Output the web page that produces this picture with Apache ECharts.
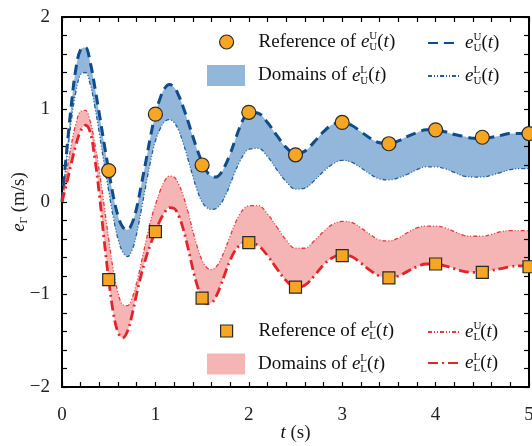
<!DOCTYPE html>
<html><head><meta charset="utf-8">
<script src="https://cdn.jsdelivr.net/npm/echarts@6/dist/echarts.min.js"></script>
<style>html,body{margin:0;padding:0;background:#fff}#c{width:532px;height:446px}</style>
</head><body><div id="c"></div>
<script>
// time samples of the curves (s)
const T = [0,0.05,0.1,0.15,0.2,0.25,0.3,0.35,0.4,0.45,0.5,0.55,0.6,0.65,0.7,0.75,0.8,0.85,0.9,0.95,1.0,
  1.05,1.1,1.15,1.2,1.25,1.3,1.35,1.4,1.45,1.5,1.55,1.6,1.65,1.7,1.75,1.8,1.85,1.9,1.95,2.0,
  2.1,2.2,2.3,2.4,2.5,2.6,2.7,2.8,2.9,3.0,3.1,3.2,3.3,3.4,3.5,3.6,3.7,3.8,3.9,4.0,
  4.1,4.2,4.3,4.4,4.5,4.6,4.7,4.8,4.9,5.0];
// e_U^U(t)
const UU = [0,0.55,1.05,1.45,1.65,1.67,1.52,1.25,0.95,0.64,0.34,0.06,-0.15,-0.27,-0.30,-0.23,-0.06,0.19,0.45,0.72,0.95,
  1.12,1.23,1.27,1.24,1.15,1.02,0.87,0.71,0.56,0.43,0.33,0.28,0.27,0.31,0.40,0.52,0.66,0.80,0.91,0.97,
  0.96,0.86,0.72,0.59,0.52,0.55,0.65,0.76,0.84,0.86,0.83,0.76,0.69,0.64,0.63,0.66,0.71,0.75,0.78,0.78,
  0.76,0.73,0.71,0.69,0.69,0.70,0.72,0.74,0.74,0.74];
// e_U^L(t)
const UL = [0,0.45,0.88,1.20,1.38,1.40,1.28,1.04,0.74,0.42,0.12,-0.17,-0.40,-0.54,-0.59,-0.52,-0.34,-0.08,0.19,0.45,0.66,
  0.79,0.87,0.89,0.86,0.77,0.63,0.46,0.28,0.12,0.00,-0.06,-0.08,-0.07,-0.02,0.07,0.19,0.32,0.43,0.52,0.57,
  0.58,0.49,0.35,0.22,0.14,0.15,0.23,0.33,0.41,0.45,0.43,0.37,0.30,0.25,0.24,0.26,0.30,0.35,0.38,0.38,
  0.36,0.32,0.28,0.27,0.27,0.29,0.32,0.35,0.36,0.36];
// e_L^U(t)
const LU = [0,0.33,0.62,0.85,0.98,0.99,0.88,0.64,0.33,-0.03,-0.40,-0.74,-0.98,-1.11,-1.12,-1.04,-0.87,-0.65,-0.42,-0.20,-0.03,
  0.12,0.23,0.28,0.27,0.19,0.06,-0.11,-0.31,-0.49,-0.63,-0.71,-0.73,-0.70,-0.62,-0.50,-0.37,-0.24,-0.14,-0.07,-0.04,
  -0.04,-0.13,-0.27,-0.41,-0.50,-0.50,-0.42,-0.32,-0.24,-0.21,-0.22,-0.28,-0.35,-0.41,-0.42,-0.39,-0.33,-0.28,-0.26,-0.26,
  -0.28,-0.32,-0.36,-0.37,-0.37,-0.35,-0.32,-0.31,-0.31,-0.31];
// e_L^L(t)
const LL = [0,0.20,0.42,0.62,0.77,0.83,0.76,0.48,0.08,-0.40,-0.84,-1.20,-1.41,-1.47,-1.40,-1.22,-0.99,-0.78,-0.60,-0.45,-0.32,
  -0.20,-0.11,-0.06,-0.07,-0.15,-0.30,-0.50,-0.72,-0.91,-1.04,-1.10,-1.09,-1.02,-0.90,-0.76,-0.63,-0.53,-0.47,-0.44,-0.44,
  -0.47,-0.58,-0.72,-0.85,-0.92,-0.90,-0.80,-0.68,-0.60,-0.57,-0.59,-0.66,-0.74,-0.80,-0.82,-0.80,-0.75,-0.70,-0.67,-0.67,
  -0.69,-0.72,-0.75,-0.76,-0.76,-0.74,-0.72,-0.70,-0.69,-0.69];
// reference points
const refT = [0.5,1.0,1.5,2.0,2.5,3.0,3.5,4.0,4.5,5.0];
const refU = [0.34,0.95,0.40,0.97,0.51,0.86,0.63,0.78,0.70,0.74];
const refL = [-0.84,-0.32,-1.04,-0.44,-0.92,-0.58,-0.82,-0.67,-0.76,-0.70];
// ticks
const xTicks = [0,1,2,3,4,5];
const xTickLabels = ['0','1','2','3','4','5'];
const yTicks = [-2,-1,0,1,2];
const yTickLabels = ['\u22122','\u22121','0','1','2'];

const F = "'Liberation Serif','Times New Roman',serif";
const blueFill = '#93b7da', pinkFill = '#f5b5b5';
const blueDark = '#0f4c8a', blueThin = '#1f5f9f', redThin = '#e8383d', redThick = '#e3242b';
const orange = '#f6a623';

const rich = {
  i: {fontFamily: F, fontStyle: 'italic', fontSize: 19, lineHeight: 22, color: '#111'},
  sp: {fontFamily: F, fontSize: 11, lineHeight: 11, verticalAlign: 'top', width: 0, color: '#111'},
  sb: {fontFamily: F, fontSize: 11, lineHeight: 11, verticalAlign: 'bottom', color: '#111'},
  n: {fontFamily: F, fontSize: 19, lineHeight: 22, color: '#111'}
};
const legendText = {
  refU: 'Reference of {i|e}{sp|U}{sb|U}{n|(}{i|t}{n|)}',
  domU: 'Domains of {i|e}{sp|L}{sb|U}{n|(}{i|t}{n|)}',
  UU: '{i|e}{sp|U}{sb|U}{n|(}{i|t}{n|)}',
  UL: '{i|e}{sp|L}{sb|U}{n|(}{i|t}{n|)}',
  refL: 'Reference of {i|e}{sp|L}{sb|L}{n|(}{i|t}{n|)}',
  domL: 'Domains of {i|e}{sp|L}{sb|L}{n|(}{i|t}{n|)}',
  LU: '{i|e}{sp|U}{sb|L}{n|(}{i|t}{n|)}',
  LL: '{i|e}{sp|L}{sb|L}{n|(}{i|t}{n|)}'
};
function mkLegend(item, left, top, w, h) {
  return {
    data: [item], left: left, top: top, itemWidth: w, itemHeight: h, padding: 0,
    selectedMode: false, orient: 'vertical',
    formatter: n => legendText[n],
    textStyle: {fontFamily: F, fontSize: 19, lineHeight: 22, color: '#111', rich: rich}
  };
}
const pairs = arr => T.map((t, i) => [t, arr[i]]);
const SM = 0.4;

const tickStyle = {color: '#000', width: 1.2};
function xAx(pos, showLabel) {
  return {
    type: 'value', position: pos, min: xTicks[0], max: xTicks[xTicks.length - 1], interval: 1, z: 5,
    axisLine: {show: true, onZero: false, lineStyle: {color: '#000', width: 2}},
    axisTick: {show: true, inside: true, length: 5, lineStyle: tickStyle},
    minorTick: {show: true, splitNumber: 5, length: 5, lineStyle: tickStyle},
    splitLine: {show: false},
    axisLabel: {show: showLabel, margin: 19, fontFamily: F, fontSize: 19, color: '#222',
      formatter: v => xTickLabels[xTicks.indexOf(v)]},
    name: showLabel ? '{i|t} (s)' : '', nameLocation: 'middle', nameGap: 35, nameMoveOverlap: false,
    nameTextStyle: {fontFamily: F, fontSize: 19, color: '#222', rich: rich}
  };
}
function yAx(pos, showLabel) {
  return {
    type: 'value', position: pos, min: yTicks[0], max: yTicks[yTicks.length - 1], interval: 1, z: 5,
    axisLine: {show: true, onZero: false, lineStyle: {color: '#000', width: 2}},
    axisTick: {show: true, inside: true, length: 5, lineStyle: tickStyle},
    minorTick: {show: true, splitNumber: 5, length: 5, lineStyle: tickStyle},
    splitLine: {show: false},
    axisLabel: {show: showLabel, margin: 12, fontFamily: F, fontSize: 19, color: '#222',
      formatter: v => yTickLabels[yTicks.indexOf(v)]},
    name: showLabel ? '{i|e}{sb|\u0393} (m/s)' : '', nameLocation: 'middle', nameGap: 32, nameRotate: 90,
    nameMoveOverlap: false,
    nameTextStyle: {fontFamily: F, fontSize: 19, color: '#222', rich: rich}
  };
}
// area fill down to the axis start, used as band fill / white mask
function fill(name, arr, color, z) {
  return {name: name, type: 'line', data: pairs(arr), smooth: SM, symbol: 'none', silent: true, z: z,
    lineStyle: {width: 0, opacity: 0}, itemStyle: {color: color},
    areaStyle: {color: color, opacity: 1, origin: 'start'}};
}

const chart = echarts.init(document.getElementById('c'), null, {renderer: 'canvas'});
chart.setOption({
  animation: false,
  backgroundColor: '#fff',
  grid: {left: 62, right: 3, top: 17, bottom: 59, containLabel: false, outerBoundsMode: 'none'},
  xAxis: [xAx('bottom', true), xAx('top', false)],
  yAxis: [yAx('left', true), yAx('right', false)],
  legend: [
    mkLegend({name: 'refU', icon: 'circle', itemStyle: {color: orange, borderColor: '#2a2a2a', borderWidth: 1.2}}, 219, 31, 54, 14),
    mkLegend({name: 'domU', icon: 'path://M0 0H38V21H0Z', itemStyle: {color: blueFill, borderWidth: 0}}, 207, 64.5, 54, 21),
    mkLegend({name: 'UU'}, 427, 32, 32, 1),
    mkLegend({name: 'UL'}, 427, 65, 32, 1),
    mkLegend({name: 'refL', icon: 'path://M0 0H10V10H0Z', itemStyle: {color: orange, borderColor: '#2a2a2a', borderWidth: 1.2}}, 220, 320, 54, 12),
    mkLegend({name: 'domL', icon: 'path://M0 0H38V21H0Z', itemStyle: {color: pinkFill, borderWidth: 0}}, 207, 353, 54, 21),
    mkLegend({name: 'LU'}, 427, 321, 32, 1),
    mkLegend({name: 'LL'}, 427, 352, 32, 1)
  ],
  series: [
    fill('domU', UU, blueFill, 1),
    fill('maskU', UL, '#ffffff', 1),
    fill('domL', LU, pinkFill, 1),
    fill('maskL', LL, '#ffffff', 1),
    {name: 'UL', type: 'line', data: pairs(UL), smooth: SM, symbol: 'none', z: 6,
     itemStyle: {color: blueThin}, lineStyle: {color: blueThin, width: 1.3, type: [4, 2, 1, 2, 1, 2]}},
    {name: 'UU', type: 'line', data: pairs(UU), smooth: SM, symbol: 'none', z: 6,
     itemStyle: {color: blueDark}, lineStyle: {color: blueDark, width: 3, type: [10, 6]}},
    {name: 'LU', type: 'line', data: pairs(LU), smooth: SM, symbol: 'none', z: 6,
     itemStyle: {color: redThin}, lineStyle: {color: redThin, width: 1.3, type: [4, 2, 1, 2, 1, 2]}},
    {name: 'LL', type: 'line', data: pairs(LL), smooth: SM, symbol: 'none', z: 6,
     itemStyle: {color: redThick}, lineStyle: {color: redThick, width: 2.8, type: [10, 4, 2, 4]}},
    {name: 'refU', type: 'scatter', data: refT.map((t, i) => [t, refU[i]]), symbol: 'circle', symbolSize: 14,
     clip: false, z: 7, itemStyle: {color: orange, borderColor: '#2a2a2a', borderWidth: 1.2, opacity: 1}},
    {name: 'refL', type: 'scatter', data: refT.map((t, i) => [t, refL[i]]), symbol: 'rect', symbolSize: 12,
     clip: false, z: 7, itemStyle: {color: orange, borderColor: '#2a2a2a', borderWidth: 1.2, opacity: 1}}
  ]
});
</script></body></html>
